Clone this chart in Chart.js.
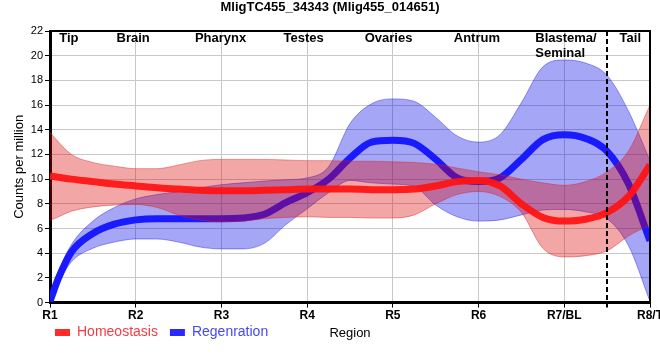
<!DOCTYPE html>
<html>
<head>
<meta charset="utf-8">
<script src="https://cdn.jsdelivr.net/npm/chart.js@4.4.0/dist/chart.umd.min.js"></script>
<style>
  html, body { margin: 0; padding: 0; background: #fff; }
</style>
</head>
<body>
<canvas id="myChart" width="660" height="360"></canvas>
<script>
// tick labels along the body axis and the tissue names printed at the top
const regionTicks = ['R1', 'R2', 'R3', 'R4', 'R5', 'R6', 'R7/BL', 'R8/T'];
const regionNames = ['Tip', 'Brain', 'Pharynx', 'Testes', 'Ovaries', 'Antrum', 'Blastema/\nSeminal', 'Tail'];
const regionNamePos = [0.22, 0.97, 1.99, 2.96, 3.95, 4.98, 6.02, 6.77];
const tailStart = 6.5;

// positions along the axis where the curves were read
const pos = [0, 0.1, 0.25, 0.5, 0.75, 1, 1.25, 1.5, 1.75, 2, 2.25, 2.5, 2.75, 3, 3.25, 3.5,
             3.75, 4, 4.25, 4.5, 4.75, 5, 5.25, 5.5, 5.75, 6, 6.25, 6.5, 6.75, 7];

const homeoMean = [10.25, 10.15, 10.0, 9.8, 9.6, 9.45, 9.3, 9.2, 9.1, 9.05, 9.05, 9.1, 9.15, 9.2, 9.2, 9.2,
                   9.15, 9.15, 9.2, 9.45, 9.8, 9.9, 9.45, 8.0, 6.9, 6.6, 6.75, 7.3, 8.6, 11.15];
const homeoUpper = [13.8, 13.0, 12.0, 11.35, 11.05, 10.85, 10.85, 11.15, 11.5, 11.6, 11.6, 11.6, 11.55, 11.5, 11.5, 11.45,
                    11.45, 11.4, 11.35, 11.2, 10.9, 10.6, 10.35, 10.0, 9.7, 9.5, 9.8, 10.6, 12.3, 16.0];
const homeoLower = [6.65, 6.95, 7.4, 7.75, 7.9, 7.95, 7.7, 7.1, 6.7, 6.55, 6.6, 6.8, 6.9, 6.95, 6.9, 6.9,
                    6.85, 6.85, 7.1, 8.0, 8.75, 9.0, 8.6, 7.3, 4.4, 3.7, 3.8, 4.2, 5.4, 6.3];

const regenMean = [0.1, 2.0, 4.1, 5.6, 6.35, 6.7, 6.8, 6.8, 6.8, 6.8, 6.85, 7.15, 8.1, 8.9, 10.0, 11.7,
                   13.0, 13.15, 12.9, 11.6, 10.1, 9.8, 10.1, 11.6, 13.2, 13.6, 13.3, 12.25, 9.6, 5.0];
const regenUpper = [0.2, 2.5, 4.7, 6.6, 7.7, 8.4, 8.75, 9.0, 9.3, 9.55, 9.7, 9.85, 9.95, 10.1, 11.0, 14.5,
                    16.1, 16.5, 16.3, 15.0, 13.5, 13.0, 13.6, 16.2, 19.1, 19.65, 19.4, 18.4, 15.5, 11.5];
const regenLower = [0, 1.6, 3.3, 4.4, 4.9, 5.15, 5.15, 4.9, 4.5, 4.35, 4.35, 4.8, 6.3, 7.6, 8.9, 9.9,
                    9.7, 9.6, 9.4, 7.9, 6.95, 6.6, 6.7, 7.1, 7.5, 7.55, 7.35, 6.8, 4.6, 0.1];

const toPoints = (vals) => pos.map((x, i) => ({ x: x, y: vals[i] }));

Chart.defaults.font.family = '"Liberation Sans", Arial, sans-serif';
Chart.defaults.color = '#000';

const legendText = { 'Homeostasis': '#f03c46', 'Regenration': '#4646f5' };

const decorations = {
    id: 'decorations',
    afterLayout(chart) {
        // legend sits on the same line as the "Region" axis title
        chart.legend.left -= 7;
        chart.legend.right -= 7;
        chart.legend.top -= 10.4;
        chart.legend.bottom -= 10.4;
    },
    afterDatasetsDraw(chart) {
        const { ctx, chartArea: a, scales: { x } } = chart;
        ctx.save();
        ctx.strokeStyle = '#000';
        ctx.lineWidth = 2;
        ctx.beginPath();
        ctx.moveTo(a.left, a.top);
        ctx.lineTo(a.right, a.top);
        ctx.lineTo(a.right, a.bottom);
        ctx.stroke();

        const dx = Math.round(x.getPixelForValue(tailStart));
        ctx.setLineDash([5, 3]);
        ctx.beginPath();
        ctx.moveTo(dx, a.top);
        ctx.lineTo(dx, a.bottom + 5);
        ctx.stroke();
        ctx.setLineDash([]);

        ctx.font = 'bold 13px "Liberation Sans", Arial, sans-serif';
        ctx.fillStyle = '#000';
        ctx.textBaseline = 'top';
        ctx.textAlign = 'left';
        regionNames.forEach((name, i) => {
            const lines = name.split('\n');
            const cx = x.getPixelForValue(regionNamePos[i]);
            const left = cx - ctx.measureText(lines[0]).width / 2;
            lines.forEach((ln, j) => ctx.fillText(ln, left, a.top + 1 + j * 15));
        });
        ctx.restore();
    }
};

const ctx = document.getElementById('myChart');

new Chart(ctx, {
    type: 'line',
    data: {
        datasets: [
            {
                label: 'Homeostasis',
                data: toPoints(homeoMean),
                borderColor: 'rgba(255, 20, 20, 0.95)',
                backgroundColor: '#ff2a2a',
                borderWidth: 7,
                order: 0
            },
            {
                label: '',
                data: toPoints(homeoUpper),
                borderColor: 'rgba(215, 40, 40, 0.45)',
                backgroundColor: 'rgba(220, 0, 0, 0.35)',
                borderWidth: 1,
                fill: '+1',
                order: 1
            },
            {
                label: '',
                data: toPoints(homeoLower),
                borderColor: 'rgba(215, 40, 40, 0.45)',
                borderWidth: 1,
                fill: false,
                order: 1
            },
            {
                label: 'Regenration',
                data: toPoints(regenMean),
                borderColor: '#1a1aff',
                backgroundColor: '#2a2aff',
                borderWidth: 7,
                order: 2
            },
            {
                label: '',
                data: toPoints(regenUpper),
                borderColor: 'rgba(40, 40, 230, 0.45)',
                backgroundColor: 'rgba(0, 0, 230, 0.35)',
                borderWidth: 1,
                fill: '+1',
                order: 3
            },
            {
                label: '',
                data: toPoints(regenLower),
                borderColor: 'rgba(40, 40, 230, 0.45)',
                borderWidth: 1,
                fill: false,
                order: 3
            }
        ]
    },
    options: {
        responsive: false,
        animation: false,
        parsing: false,
        elements: {
            point: { radius: 0 },
            line: { cubicInterpolationMode: 'monotone' }
        },
        datasets: { line: { clip: 0 } },
        layout: { padding: 0 },
        plugins: {
            title: {
                display: true,
                text: 'MligTC455_34343 (Mlig455_014651)',
                color: '#000',
                font: { size: 13, weight: 'bold' },
                padding: { top: 0, bottom: 15.4 }
            },
            legend: {
                position: 'bottom',
                align: 'start',
                fullSize: false,
                labels: {
                    boxWidth: 15,
                    boxHeight: 7,
                    padding: 12,
                    font: { size: 14 },
                    generateLabels: (chart) => Chart.defaults.plugins.legend.labels.generateLabels(chart)
                        .filter(item => item.text)
                        .map(item => Object.assign(item, {
                            lineWidth: 0,
                            strokeStyle: 'transparent',
                            fontColor: legendText[item.text]
                        }))
                }
            },
            tooltip: { enabled: false }
        },
        scales: {
            x: {
                type: 'linear',
                min: 0,
                max: 7,
                ticks: {
                    stepSize: 1,
                    autoSkip: false,
                    maxRotation: 0,
                    padding: 1,
                    color: '#000',
                    font: { size: 12, weight: 'bold' },
                    callback: (v) => regionTicks[v]
                },
                grid: { color: '#c8c8c8', tickColor: '#000', tickLength: 5 },
                border: { color: '#000', width: 3 },
                title: {
                    display: true,
                    text: 'Region',
                    color: '#000',
                    font: { size: 13 },
                    padding: { top: 2, bottom: -17.6 }
                },
                afterFit: (s) => { s.paddingRight = 10; }
            },
            y: {
                min: 0,
                max: 22,
                ticks: { stepSize: 2, padding: 2, color: '#000', font: { size: 11 } },
                grid: { color: '#c8c8c8', tickColor: '#000', tickLength: 5 },
                border: { color: '#000', width: 3 },
                title: {
                    display: true,
                    text: 'Counts per million',
                    color: '#000',
                    font: { size: 13 },
                    padding: { top: 12, bottom: 0 }
                },
                afterFit: (s) => { s.width = 50; }
            }
        }
    },
    plugins: [decorations]
});
</script>
</body>
</html>
